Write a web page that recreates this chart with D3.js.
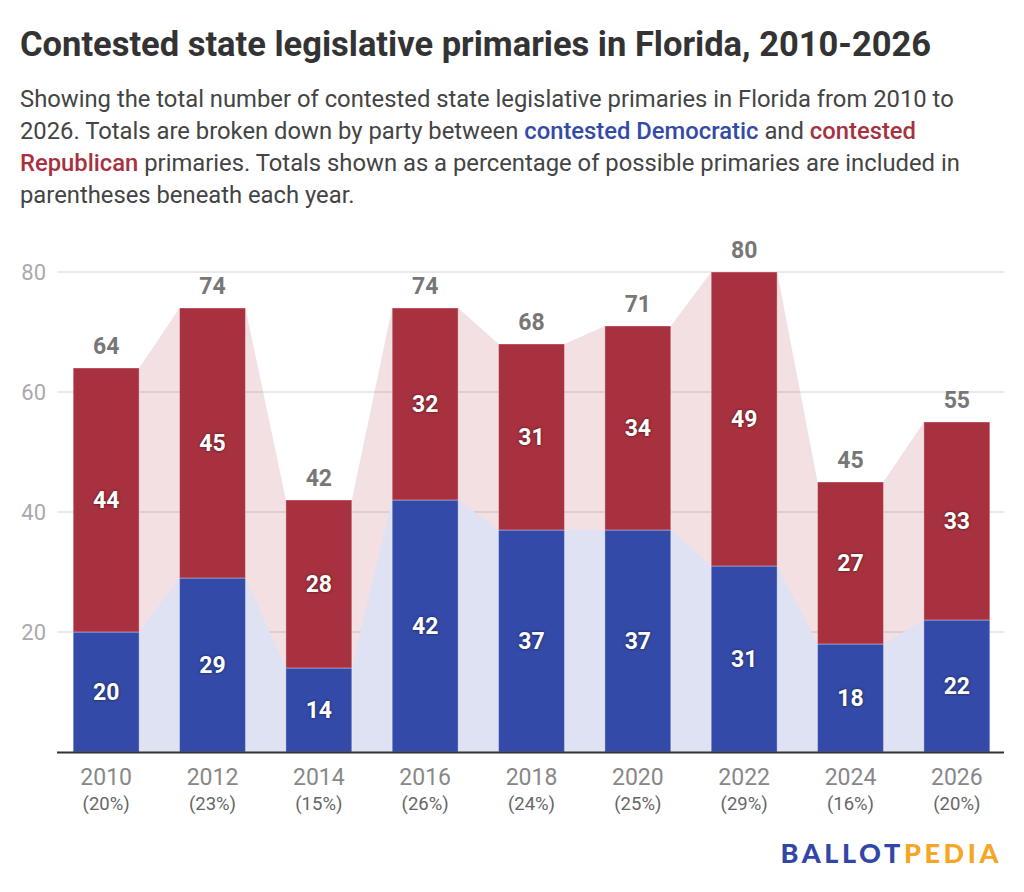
<!DOCTYPE html>
<html>
<head>
<meta charset="utf-8">
<script src="https://cdn.jsdelivr.net/npm/d3@7"></script>
<style>
  body { margin: 0; background: #fff; font-family: Roboto, "Noto Sans", sans-serif; }
  #chart { display: block; }
</style>
</head>
<body>
<svg id="chart" width="1024" height="892"></svg>
<script>
// data
const years = ["2010", "2012", "2014", "2016", "2018", "2020", "2022", "2024", "2026"]
const dem = [20, 29, 14, 42, 37, 37, 31, 18, 22]
const rep = [44, 45, 28, 32, 31, 34, 49, 27, 33]
const pct = ["20%", "23%", "15%", "26%", "24%", "25%", "29%", "16%", "20%"]
const yTicks = [20, 40, 60, 80]

const blue = "#334aa8"
const red = "#a8313f"

const svg = d3.select("#chart")

// title + subtitle
svg.append("text")
  .attr("x", 20).attr("y", 56)
  .attr("font-size", 34.5).attr("font-weight", 700)
  .attr("fill", "#333")
  .text("Contested state legislative primaries in Florida, 2010-2026")

// [text, colour, weight]
const subLines = [
  [["Showing the total number of contested state legislative primaries in Florida from 2010 to", "#444", 400]],
  [["2026. Totals are broken down by party between ", "#444", 400], ["contested Democratic", blue, 500], [" and ", "#444", 400], ["contested", red, 500]],
  [["Republican", red, 500], [" primaries. Totals shown as a percentage of possible primaries are included in", "#444", 400]],
  [["parentheses beneath each year.", "#444", 400]]
]
subLines.forEach((parts, i) => {
  let t = svg.append("text")
    .attr("x", 20).attr("y", 107 + i * 32)
    .attr("font-size", 23.8)
  parts.forEach((p) => {
    t.append("tspan").attr("fill", p[1]).attr("font-weight", p[2]).text(p[0])
  })
})

// scales
let x = d3.scaleBand()
  .domain(years)
  .range([53, 1010])
  .paddingInner(0.38)
  .paddingOuter(0.19)

let y = d3.scaleLinear()
  .domain([0, 80])
  .range([752, 272])

// gridlines
svg.append("g").selectAll("line")
  .data(yTicks)
  .enter().append("line")
  .attr("x1", 57).attr("x2", 1004)
  .attr("y1", (d) => y(d)).attr("y2", (d) => y(d))
  .attr("stroke", "#e2e2e2").attr("stroke-width", 1.5)

svg.append("g").selectAll("text")
  .data(yTicks)
  .enter().append("text")
  .attr("x", 46).attr("y", (d) => y(d))
  .attr("dy", "0.35em")
  .attr("text-anchor", "end")
  .attr("font-size", 22)
  .attr("fill", "#aaa")
  .text((d) => d)

// connecting areas between bars
const totals = dem.map((d, i) => d + rep[i])
function areaPoints(vals) {
  let pts = []
  years.forEach((yr, i) => {
    pts.push([x(yr), vals[i]])
    pts.push([x(yr) + x.bandwidth(), vals[i]])
  })
  return pts
}
let area = d3.area()
  .x((d) => d[0])
  .y0(y(0))
  .y1((d) => y(d[1]))

svg.append("path")
  .attr("d", area(areaPoints(totals)))
  .attr("fill", red).attr("fill-opacity", 0.15)
svg.append("path")
  .attr("d", area(areaPoints(dem)))
  .attr("fill", "#dfe2f2")

// bars
let g = svg.append("g")
g.selectAll(".dem").data(years)
  .enter().append("rect")
  .attr("class", "dem")
  .attr("x", (d) => x(d))
  .attr("width", x.bandwidth())
  .attr("y", (d, i) => y(dem[i]))
  .attr("height", (d, i) => y(0) - y(dem[i]))
  .attr("fill", blue)
  .attr("stroke", "rgba(255,255,255,0.35)").attr("stroke-width", 1)

g.selectAll(".rep").data(years)
  .enter().append("rect")
  .attr("class", "rep")
  .attr("x", (d) => x(d))
  .attr("width", x.bandwidth())
  .attr("y", (d, i) => y(dem[i] + rep[i]))
  .attr("height", (d, i) => y(dem[i]) - y(dem[i] + rep[i]))
  .attr("fill", red)
  .attr("stroke", "rgba(255,255,255,0.35)").attr("stroke-width", 1)

// axis line
svg.append("line")
  .attr("x1", 57).attr("x2", 1004)
  .attr("y1", y(0) + 0.5).attr("y2", y(0) + 0.5)
  .attr("stroke", "#333").attr("stroke-width", 2)

// labels in bars
const shadow = "0 0 3px rgba(0,0,0,0.6)"
g.selectAll(".demLabel").data(years)
  .enter().append("text")
  .attr("x", (d) => x(d) + x.bandwidth() / 2)
  .attr("y", (d, i) => y(dem[i] / 2))
  .attr("dy", "0.35em")
  .attr("text-anchor", "middle")
  .attr("font-size", 23).attr("font-weight", 700)
  .attr("fill", "#fff")
  .style("text-shadow", shadow)
  .text((d, i) => dem[i])

g.selectAll(".repLabel").data(years)
  .enter().append("text")
  .attr("x", (d) => x(d) + x.bandwidth() / 2)
  .attr("y", (d, i) => y(dem[i] + rep[i] / 2))
  .attr("dy", "0.35em")
  .attr("text-anchor", "middle")
  .attr("font-size", 23).attr("font-weight", 700)
  .attr("fill", "#fff")
  .style("text-shadow", shadow)
  .text((d, i) => rep[i])

g.selectAll(".totLabel").data(years)
  .enter().append("text")
  .attr("x", (d) => x(d) + x.bandwidth() / 2)
  .attr("y", (d, i) => y(totals[i]) - 14)
  .attr("text-anchor", "middle")
  .attr("font-size", 23).attr("font-weight", 700)
  .attr("fill", "#777")
  .text((d, i) => totals[i])

// x labels
let xl = svg.append("g").selectAll("g").data(years)
  .enter().append("g")
xl.append("text")
  .attr("x", (d) => x(d) + x.bandwidth() / 2)
  .attr("y", 785)
  .attr("text-anchor", "middle")
  .attr("font-size", 23)
  .attr("fill", "#888")
  .text((d) => d)
xl.append("text")
  .attr("x", (d) => x(d) + x.bandwidth() / 2)
  .attr("y", 810)
  .attr("text-anchor", "middle")
  .attr("font-size", 18.5)
  .attr("fill", "#666")
  .text((d, i) => "(" + pct[i] + ")")

// logo
let logo = svg.append("text")
  .attr("x", 1002).attr("y", 863)
  .attr("text-anchor", "end")
  .attr("font-family", "Lato, sans-serif")
  .attr("font-size", 27).attr("font-weight", 900)
  .attr("letter-spacing", 3.6)
logo.append("tspan").attr("fill", "#3246a8").text("BALLOT")
logo.append("tspan").attr("fill", "#f5a623").text("PEDIA")
</script>
</body>
</html>
